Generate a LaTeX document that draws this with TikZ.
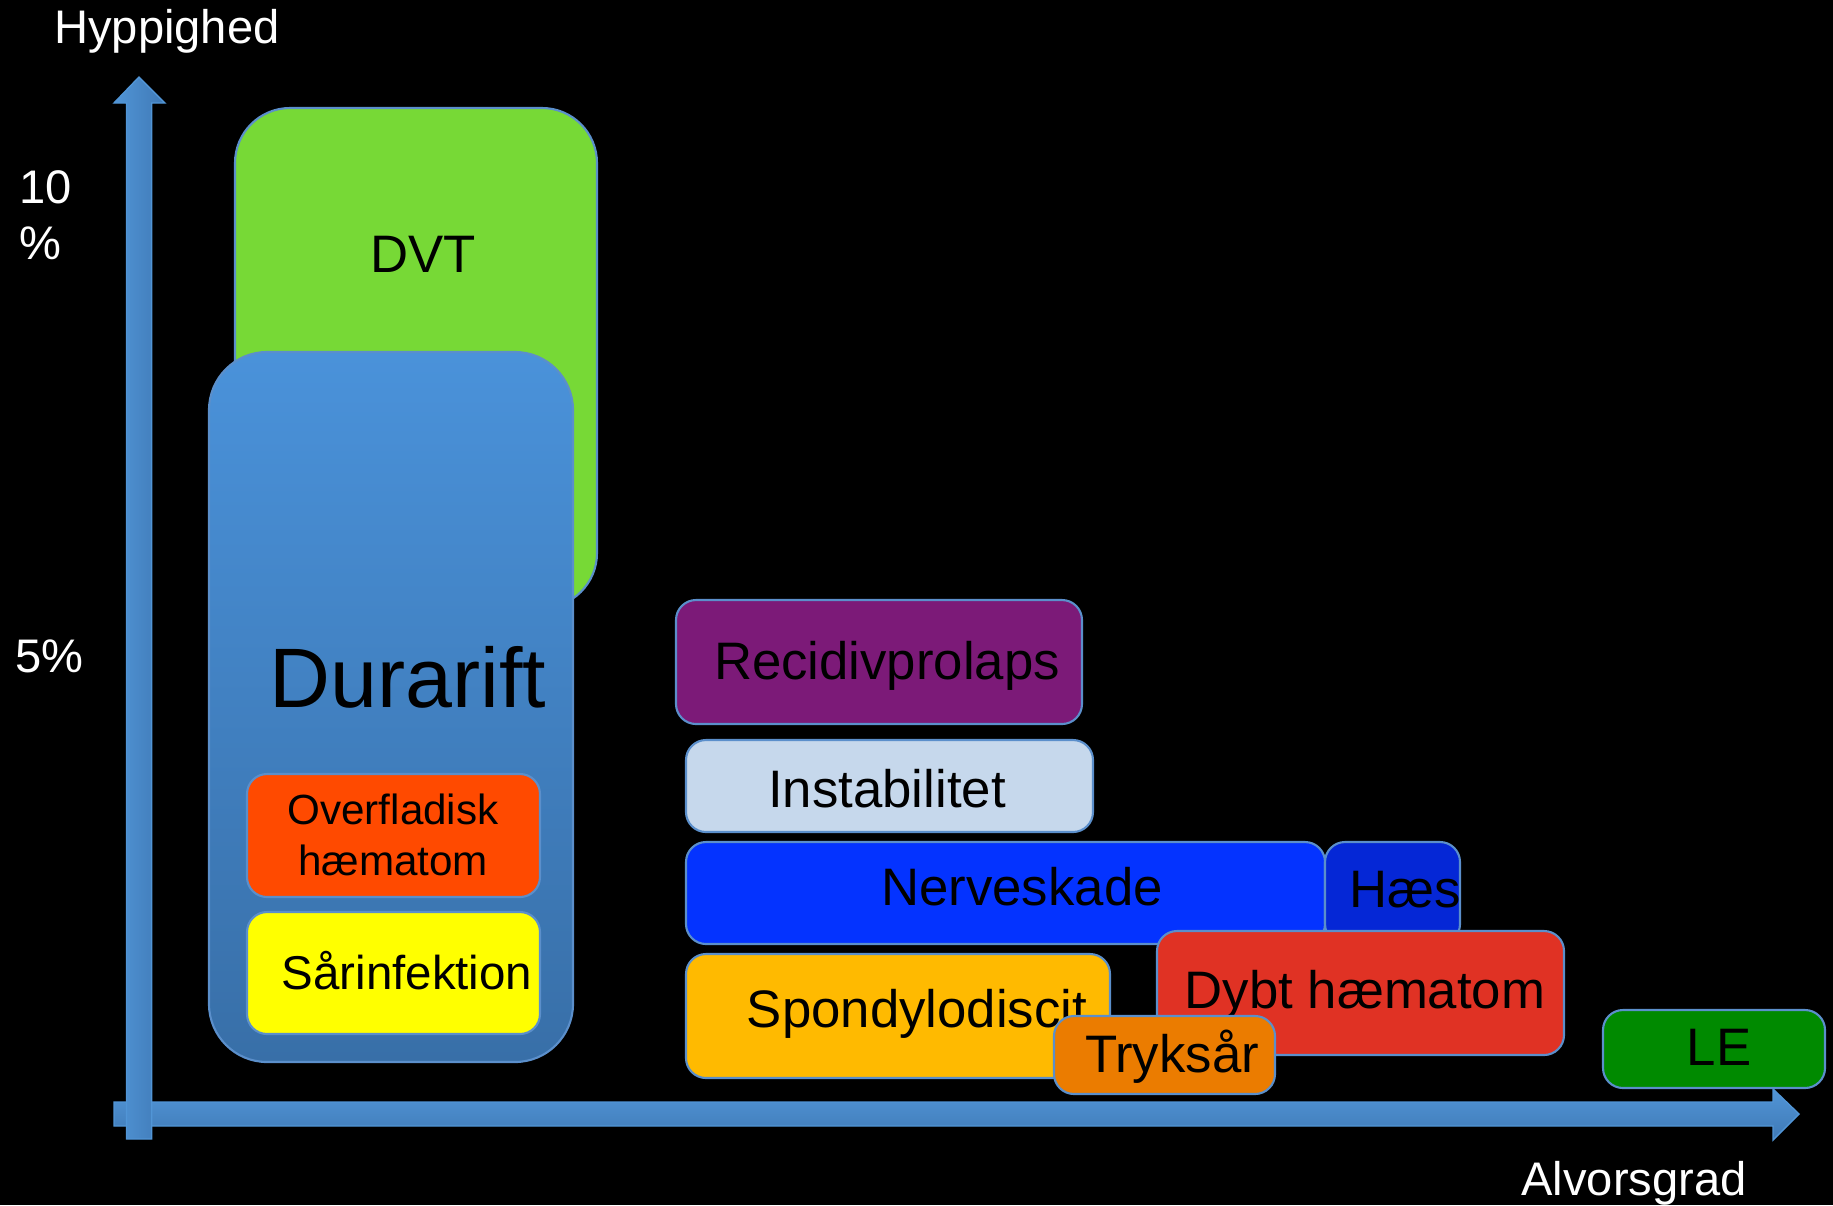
\documentclass[tikz,border=0pt]{standalone}
\usepackage{fontspec}
\setmainfont{Liberation Sans}
\usepackage{tikz}
\definecolor{axistop}{HTML}{5195D6}
\definecolor{axisbot}{HTML}{3F79B6}
\definecolor{edgeblue}{HTML}{5B8FCB}
\definecolor{dvtgreen}{HTML}{77D936}
\definecolor{duratop}{HTML}{4A92DA}
\definecolor{durabot}{HTML}{386FA8}
\definecolor{overred}{HTML}{FF4A00}
\definecolor{saryellow}{HTML}{FFFF00}
\definecolor{recpurple}{HTML}{7C1A78}
\definecolor{instblue}{HTML}{C6D8EC}
\definecolor{nerveblue}{HTML}{0433FF}
\definecolor{haesblue}{HTML}{0527D6}
\definecolor{dybtred}{HTML}{E03224}
\definecolor{spondyellow}{HTML}{FFBA00}
\definecolor{trykorange}{HTML}{EB7C00}
\definecolor{legreen}{HTML}{008A00}
\tikzset{%
  box/.style={draw=edgeblue, line width=0.6pt, rounded corners=0.2cm},
  txt/.style={inner sep=0pt, anchor=base, text=black, font=\fontsize{15pt}{18pt}\selectfont},
  axislbl/.style={inner sep=0pt, anchor=base, text=white, font=\fontsize{13.4pt}{16pt}\selectfont}%
}

\begin{document}
\begin{tikzpicture}[x=0.01cm, y=-0.01cm]

\fill[black] (0,0) rectangle (1833,1205);
\useasboundingbox (0,0) rectangle (1833,1205);

% axes
\shadedraw[draw=axistop, line width=0.4pt, top color=axistop, bottom color=axisbot]
  (114,1102) -- (1773,1102) -- (1773,1089) -- (1799,1114) -- (1773,1140)
  -- (1773,1126) -- (114,1126) -- cycle;
\shadedraw[draw=axistop, line width=0.4pt, left color=axistop, right color=axisbot]
  (126.5,1139) -- (126.5,103) -- (114,103) -- (139,77) -- (165,103)
  -- (151.7,103) -- (151.7,1139) -- cycle;

\node[axislbl] (hyppighed) at (167,43) {Hyppighed};
\node[axislbl] (alvorsgrad) at (1634,1195) {Alvorsgrad};
\node[axislbl, anchor=north west, align=left, font=\fontsize{13.4pt}{15.9pt}\selectfont]
  (ti) at (19,170) {10\\\%};
\node[axislbl, anchor=base west] (fem) at (15,672) {5\%};

% DVT and Durarift
\draw[box, fill=dvtgreen, rounded corners=0.55cm] (235,108) rectangle (597,608);
\node[txt] (dvt) at (423,272) {DVT};

\shadedraw[box, rounded corners=0.58cm, top color=duratop, bottom color=durabot]
  (209,352) rectangle (573,1062);
\node[txt, font=\fontsize{24pt}{28pt}\selectfont] (durarift) at (408,707) {Durarift};

\draw[box, fill=overred] (247,774) rectangle (540,897);
\node[txt, anchor=center, align=center, font=\fontsize{12pt}{14.5pt}\selectfont]
  (overfladisk) at (393,835) {Overfladisk\\hæmatom};

\draw[box, fill=saryellow] (247,912) rectangle (540,1034);
\node[txt, font=\fontsize{13.5pt}{16pt}\selectfont] (saarinf) at (407,989) {Sårinfektion};

% right-hand group
\draw[box, fill=recpurple] (676,600) rectangle (1082,724);
\node[txt] (recidiv) at (887,679) {Recidivprolaps};

\draw[box, fill=instblue] (686,740) rectangle (1093,832);
\node[txt] (instab) at (887,807) {Instabilitet};

\draw[box, fill=nerveblue] (686,842) rectangle (1325,944);
\node[txt] (nerve) at (1022,905) {Nerveskade};

\draw[box, fill=haesblue] (1325,842) rectangle (1460,944);
\node[txt] (haes) at (1405,907) {Hæs};

\draw[box, fill=dybtred] (1157,931) rectangle (1564,1055);
\node[txt] (dybt) at (1365,1008) {Dybt hæmatom};

\draw[box, fill=spondyellow] (686,954) rectangle (1110,1078);
\node[txt] (spondy) at (917,1027) {Spondylodiscit};

\draw[box, fill=trykorange] (1054,1016) rectangle (1275,1094);
\node[txt] (tryk) at (1172,1072) {Tryksår};

\draw[box, fill=legreen] (1603,1010) rectangle (1825,1088);
\node[txt] (le) at (1719,1065) {LE};

\end{tikzpicture}
\end{document}
